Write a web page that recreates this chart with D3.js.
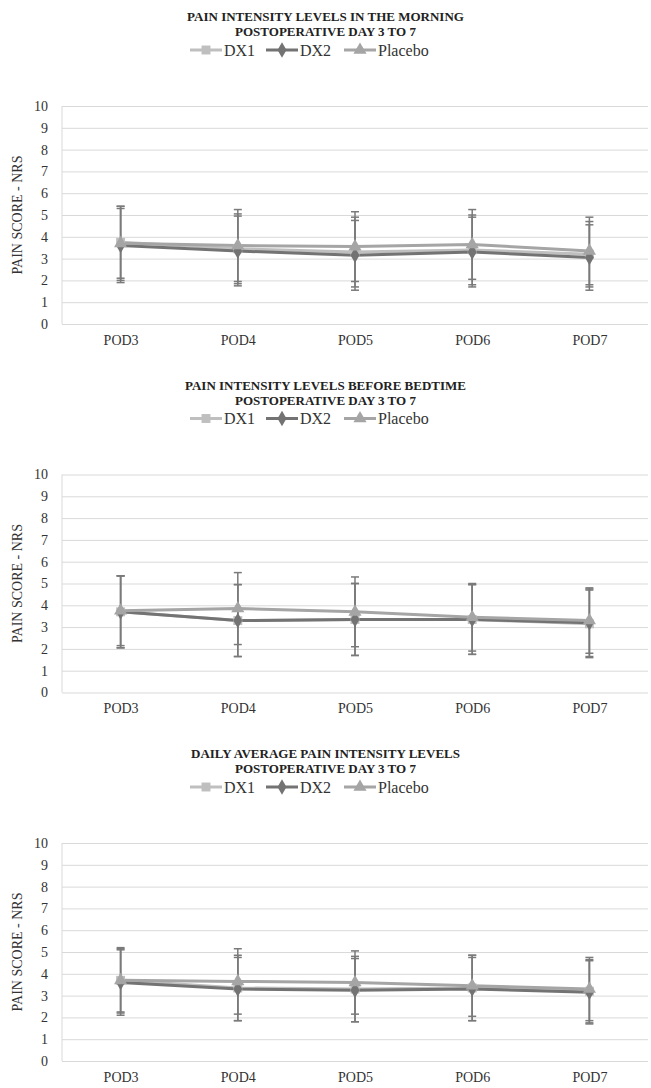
<!DOCTYPE html>
<html>
<head>
<meta charset="utf-8">
<script src="https://cdn.jsdelivr.net/npm/d3@7"></script>
<style>
  body { margin: 0; background: #fff; }
  svg { display: block; font-family: "Liberation Serif", "Times New Roman", serif; }
</style>
</head>
<body>
<div id="chart"></div>
<script>
// categories and series names
const days = ["POD3", "POD4", "POD5", "POD6", "POD7"];
const seriesNames = ["DX1", "DX2", "Placebo"];
const yTicks = [0, 1, 2, 3, 4, 5, 6, 7, 8, 9, 10];

// morning
const morningDX1 = [3.75, 3.45, 3.3, 3.4, 3.2];
const morningDX1Sd = [1.65, 1.6, 1.6, 1.6, 1.5];
const morningDX2 = [3.6, 3.35, 3.15, 3.3, 3.05];
const morningDX2Sd = [1.7, 1.6, 1.6, 1.6, 1.5];
const morningPlacebo = [3.7, 3.6, 3.55, 3.65, 3.35];
const morningPlaceboSd = [1.7, 1.65, 1.6, 1.6, 1.55];

// before bedtime
const bedtimeDX1 = [3.7, 3.3, 3.35, 3.35, 3.15];
const bedtimeDX1Sd = [1.65, 1.65, 1.65, 1.6, 1.55];
const bedtimeDX2 = [3.7, 3.3, 3.35, 3.35, 3.2];
const bedtimeDX2Sd = [1.65, 1.65, 1.65, 1.6, 1.55];
const bedtimePlacebo = [3.75, 3.85, 3.7, 3.45, 3.3];
const bedtimePlaceboSd = [1.6, 1.65, 1.6, 1.55, 1.5];

// daily average
const dailyDX1 = [3.7, 3.35, 3.3, 3.35, 3.2];
const dailyDX1Sd = [1.5, 1.5, 1.5, 1.5, 1.45];
const dailyDX2 = [3.6, 3.3, 3.25, 3.3, 3.15];
const dailyDX2Sd = [1.5, 1.45, 1.45, 1.45, 1.45];
const dailyPlacebo = [3.7, 3.65, 3.6, 3.45, 3.3];
const dailyPlaceboSd = [1.45, 1.5, 1.45, 1.4, 1.45];

const panels = [
    { title: ["PAIN INTENSITY LEVELS IN THE MORNING", "POSTOPERATIVE DAY 3 TO 7"],
      means: [morningDX1, morningDX2, morningPlacebo],
      sds: [morningDX1Sd, morningDX2Sd, morningPlaceboSd] },
    { title: ["PAIN INTENSITY LEVELS BEFORE BEDTIME", "POSTOPERATIVE DAY 3 TO 7"],
      means: [bedtimeDX1, bedtimeDX2, bedtimePlacebo],
      sds: [bedtimeDX1Sd, bedtimeDX2Sd, bedtimePlaceboSd] },
    { title: ["DAILY AVERAGE PAIN INTENSITY LEVELS", "POSTOPERATIVE DAY 3 TO 7"],
      means: [dailyDX1, dailyDX2, dailyPlacebo],
      sds: [dailyDX1Sd, dailyDX2Sd, dailyPlaceboSd] }
];

const width = 651, height = 1088;
const panelStep = 368.5;
const plot = { left: 62, right: 648, top: 106, bottom: 324 };

const colors = { DX1: "#bfbfbf", DX2: "#737373", Placebo: "#a5a5a5" };
const symbols = { DX1: d3.symbolSquare, DX2: d3.symbolDiamond, Placebo: d3.symbolTriangle };
const symbolSize = { DX1: 80, DX2: 70, Placebo: 75 };
const errColor = "#7a7a7a";

const svg = d3.select("#chart").append("svg")
    .attr("width", width)
    .attr("height", height);

const x = d3.scalePoint()
    .domain(days)
    .range([plot.left, plot.right])
    .padding(0.5);

const y = d3.scaleLinear()
    .domain([0, 10])
    .range([plot.bottom, plot.top]);

panels.forEach((p, pi) => {
    const g = svg.append("g")
        .attr("transform", `translate(0,${pi * panelStep})`);

    // title, two lines
    p.title.forEach((t, i) => {
        g.append("text")
            .attr("x", width / 2).attr("y", 21 + i * 15)
            .attr("text-anchor", "middle")
            .attr("font-size", 13).attr("font-weight", "bold")
            .attr("fill", "#222")
            .text(t);
    });

    // legend
    const legendX = [190, 266, 344];
    seriesNames.forEach((name, i) => {
        const lg = g.append("g").attr("transform", `translate(${legendX[i]},50)`);
        lg.append("line")
            .attr("x1", 0).attr("x2", 32)
            .attr("stroke", colors[name]).attr("stroke-width", 3);
        lg.append("path")
            .attr("transform", "translate(16,0)")
            .attr("d", d3.symbol(symbols[name], symbolSize[name])())
            .attr("fill", colors[name]);
        lg.append("text")
            .attr("x", 34).attr("y", 5.5)
            .attr("font-size", 16).attr("fill", "#333")
            .text(name);
    });

    // y axis with gridlines
    const yAxis = g.append("g")
        .attr("transform", `translate(${plot.left},0)`)
        .call(d3.axisLeft(y).tickValues(yTicks).tickSize(-(plot.right - plot.left)).tickPadding(14));
    yAxis.select(".domain").remove();
    yAxis.selectAll("line").attr("stroke", "#d9d9d9").attr("stroke-width", 1);
    yAxis.selectAll("text")
        .attr("font-family", "Liberation Serif").attr("font-size", 14).attr("fill", "#333");

    g.append("line")
        .attr("x1", plot.left).attr("x2", plot.left)
        .attr("y1", plot.top).attr("y2", plot.bottom)
        .attr("stroke", "#d9d9d9");

    // x axis labels
    const xAxis = g.append("g")
        .attr("transform", `translate(0,${plot.bottom})`)
        .call(d3.axisBottom(x).tickSize(0).tickPadding(11));
    xAxis.select(".domain").remove();
    xAxis.selectAll("text")
        .attr("font-family", "Liberation Serif").attr("font-size", 14).attr("fill", "#333");

    // y axis title
    g.append("text")
        .attr("transform", `translate(22,${(plot.top + plot.bottom) / 2}) rotate(-90)`)
        .attr("text-anchor", "middle")
        .attr("font-size", 14).attr("fill", "#333")
        .text("PAIN SCORE - NRS");

    // error bars (mean ± SD)
    seriesNames.forEach((name, si) => {
        const eb = g.append("g");
        days.forEach((d, di) => {
            const m = p.means[si][di], s = p.sds[si][di];
            const cx = x(d);
            eb.append("line")
                .attr("x1", cx).attr("x2", cx)
                .attr("y1", y(m - s)).attr("y2", y(m + s))
                .attr("stroke", errColor).attr("stroke-width", 1.5);
            [m - s, m + s].forEach(v => {
                eb.append("line")
                    .attr("x1", cx - 4).attr("x2", cx + 4)
                    .attr("y1", y(v)).attr("y2", y(v))
                    .attr("stroke", errColor).attr("stroke-width", 1.5);
            });
        });
    });

    // lines
    const line = d3.line()
        .x((v, i) => x(days[i]))
        .y(v => y(v));
    seriesNames.forEach((name, si) => {
        g.append("path")
            .datum(p.means[si])
            .attr("d", line)
            .attr("fill", "none")
            .attr("stroke", colors[name])
            .attr("stroke-width", 3);
    });

    // markers
    seriesNames.forEach((name, si) => {
        g.selectAll(null)
            .data(p.means[si])
            .enter().append("path")
            .attr("transform", (v, i) => `translate(${x(days[i])},${y(v)})`)
            .attr("d", d3.symbol(symbols[name], symbolSize[name])())
            .attr("fill", colors[name]);
    });
});
</script>
</body>
</html>
